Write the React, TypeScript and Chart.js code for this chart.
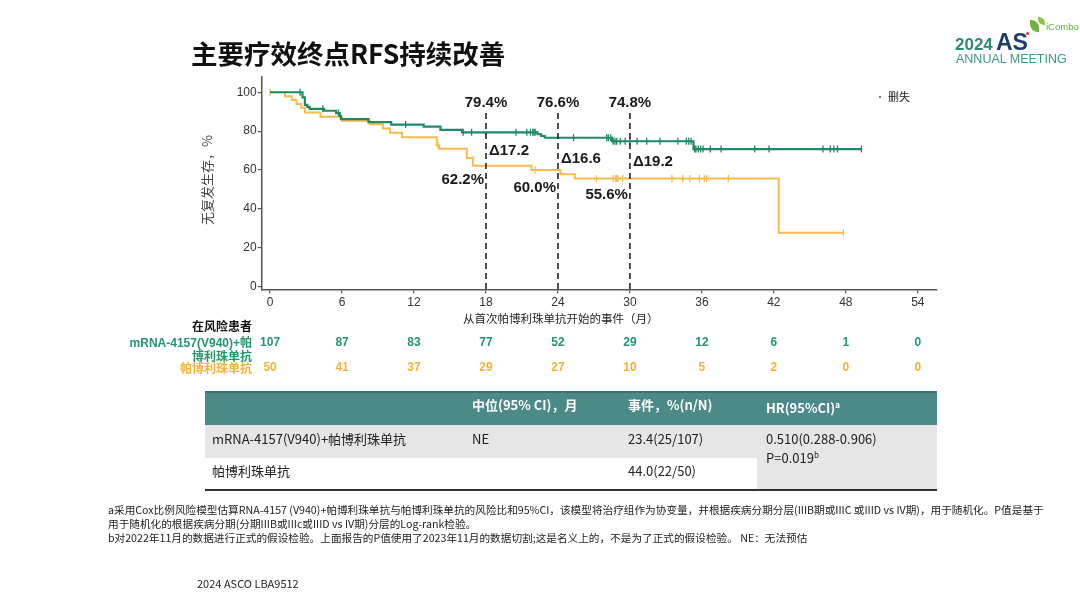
import React, { useEffect, useRef } from 'react';
import { Chart, registerables } from 'chart.js';
Chart.register(...registerables);

// ---------- data ----------
const xTicks = [0, 6, 12, 18, 24, 30, 36, 42, 48, 54];
const yTicks = [0, 20, 40, 60, 80, 100];

const comboTimes = [0, 2.7, 2.9, 3.1, 3.3, 4.5, 5.5, 5.8, 5.9, 8.2, 10.1, 12.8, 14.2, 16.0, 22.3, 22.6, 22.9, 28.5, 35.3, 49.3];
const comboSurv = [100, 97.4, 93.5, 92.5, 91.5, 90.5, 89.3, 87.8, 86.2, 84.6, 83.4, 82.3, 80.6, 79.4, 78.4, 77.5, 76.6, 74.8, 70.8, 70.8];
const comboCensor = [2.5, 4.4, 5.7, 11.3, 16.1, 16.8, 20.5, 21.4, 21.7, 21.9, 22.0, 22.1, 25.3, 28.06, 28.2, 28.4, 28.6, 28.75, 28.9, 29.2, 29.6, 30.0, 30.6, 31.4, 32.5, 34.0, 34.7, 34.9, 35.1, 35.4, 35.5, 35.7, 35.9, 36.1, 36.7, 37.6, 40.4, 41.6, 46.1, 46.7, 47.0, 47.3, 49.3];

const pembroTimes = [0, 1.25, 1.8, 2.2, 2.6, 2.9, 4.2, 6.0, 8.3, 9.4, 10.0, 11.0, 13.9, 14.1, 16.4, 16.9, 21.8, 24.2, 25.4, 42.4, 47.8];
const pembroSurv = [100, 98, 96, 94, 92, 89.6, 87.4, 85.4, 83.5, 81.4, 79.2, 76.9, 72.8, 71.0, 66.2, 62.2, 60.0, 57.8, 55.6, 27.8, 27.8];
const pembroCensor = [0, 14.0, 22.1, 27.2, 28.6, 28.8, 28.9, 29.0, 29.4, 33.5, 34.4, 35.0, 35.8, 36.2, 36.4, 38.2, 47.8];

const atRiskTimes = [0, 6, 12, 18, 24, 30, 36, 42, 48, 54];
const atRiskCombo = [107, 87, 83, 77, 52, 29, 12, 6, 1, 0];
const atRiskPembro = [50, 41, 37, 29, 27, 10, 5, 2, 0, 0];

const landmarkMonths = [18, 24, 30];
const landmarkCombo = ['79.4%', '76.6%', '74.8%'];
const landmarkDelta = ['Δ17.2', 'Δ16.6', 'Δ19.2'];
const landmarkPembro = ['62.2%', '60.0%', '55.6%'];

const GREEN = '#1d8a62';
const GREEN_TEXT = '#23966a';
const ORANGE = '#f6bb4c';
const ORANGE_TEXT = '#f3b23a';
const TEAL = '#4b8a87';
const LATIN = '"Liberation Sans", Arial, "Noto Sans CJK SC", sans-serif';
const CJK = '"Noto Sans CJK SC", "Liberation Sans", sans-serif';

function survAt(times: number[], surv: number[], t: number) {
  let v = surv[0];
  for (let i = 0; i < times.length; i++) if (times[i] <= t) v = surv[i];
  return v;
}

const annotationPlugin = {
  id: 'kmAnnotations',
  afterDatasetsDraw(chart: any) {
    const { ctx, scales } = chart;
    const xs = scales.x;
    const ys = scales.y;
    ctx.save();
    ctx.strokeStyle = '#222';
    ctx.lineWidth = 1.6;
    ctx.setLineDash([6, 4]);
    landmarkMonths.forEach((m) => {
      const x = xs.getPixelForValue(m);
      ctx.beginPath();
      ctx.moveTo(x, 113);
      ctx.lineTo(x, ys.getPixelForValue(ys.min));
      ctx.stroke();
    });
    ctx.setLineDash([]);
    ctx.fillStyle = '#1a1a1a';
    ctx.font = 'bold 15px ' + LATIN;
    ctx.textBaseline = 'middle';
    const deltaY = [151, 159, 162];
    const lowY = [180, 188, 195];
    landmarkMonths.forEach((m, i) => {
      const x = xs.getPixelForValue(m);
      ctx.textAlign = 'center';
      ctx.fillText(landmarkCombo[i], x, 103);
      ctx.textAlign = 'left';
      ctx.fillText(landmarkDelta[i], x + 3, deltaY[i]);
      ctx.textAlign = 'right';
      ctx.fillText(landmarkPembro[i], x - 2, lowY[i]);
    });
    ctx.font = 'bold 12px ' + LATIN;
    ctx.textAlign = 'center';
    atRiskTimes.forEach((t, i) => {
      const x = xs.getPixelForValue(t);
      ctx.fillStyle = GREEN_TEXT;
      ctx.fillText(String(atRiskCombo[i]), x, 343);
      ctx.fillStyle = ORANGE_TEXT;
      ctx.fillText(String(atRiskPembro[i]), x, 368);
    });
    ctx.restore();
  },
};

function KMChart() {
  const ref = useRef<HTMLCanvasElement | null>(null);
  useEffect(() => {
    if (!ref.current) return;
    const comboLine = comboTimes.map((t, i) => ({ x: t, y: comboSurv[i] }));
    const pembroLine = pembroTimes.map((t, i) => ({ x: t, y: pembroSurv[i] }));
    const comboMarks = comboCensor.map((t) => ({ x: t, y: survAt(comboTimes, comboSurv, t) }));
    const pembroMarks = pembroCensor.map((t) => ({ x: t, y: survAt(pembroTimes, pembroSurv, t) }));
    const tickFont = { size: 12, family: LATIN };
    const chart = new Chart(ref.current, {
      type: 'line',
      data: {
        datasets: [
          { data: comboMarks, showLine: false, pointStyle: 'line', rotation: 90, pointRadius: 3.5, pointBorderWidth: 1.3, borderColor: GREEN, pointBorderColor: GREEN, backgroundColor: GREEN } as any,
          { data: comboLine, borderColor: GREEN, borderWidth: 2.2, pointRadius: 0, stepped: 'before', fill: false } as any,
          { data: pembroMarks, showLine: false, pointStyle: 'line', rotation: 90, pointRadius: 3.5, pointBorderWidth: 1.3, borderColor: ORANGE, pointBorderColor: ORANGE, backgroundColor: ORANGE } as any,
          { data: pembroLine, borderColor: ORANGE, borderWidth: 2, pointRadius: 0, stepped: 'before', fill: false } as any,
        ],
      },
      options: {
        responsive: false,
        animation: false,
        events: [],
        layout: { padding: { left: 221.7, top: 76.7, right: 143, bottom: 288.4 } },
        plugins: { legend: { display: false }, tooltip: { enabled: false } },
        scales: {
          x: {
            type: 'linear',
            min: -0.7,
            max: 55.6,
            afterBuildTicks: (s: any) => { s.ticks = xTicks.map((v) => ({ value: v })); },
            afterFit: (s: any) => { s.height = 30; },
            grid: { display: true, drawOnChartArea: false, drawTicks: true, tickLength: 4, color: '#555', lineWidth: 1.2 },
            border: { display: true, color: '#555', width: 1.5 },
            ticks: { font: tickFont, color: '#333', padding: 2, maxRotation: 0, autoSkip: false, callback: (v: any) => String(v) },
          },
          y: {
            type: 'linear',
            min: -1.5,
            max: 108,
            afterBuildTicks: (s: any) => { s.ticks = yTicks.map((v) => ({ value: v })); },
            afterFit: (s: any) => { s.width = 40; },
            grid: { display: true, drawOnChartArea: false, drawTicks: true, tickLength: 4, color: '#555', lineWidth: 1.2 },
            border: { display: true, color: '#555', width: 1.5 },
            ticks: { font: tickFont, color: '#333', padding: 1, autoSkip: false, callback: (v: any) => String(v) },
          },
        },
      } as any,
      plugins: [annotationPlugin],
    });
    return () => chart.destroy();
  }, []);
  return <canvas ref={ref} width={1080} height={608} style={{ position: 'absolute', left: 0, top: 0, width: 1080, height: 608 }} />;
}

const abs = (left: number, top: number, extra: React.CSSProperties = {}): React.CSSProperties => ({
  position: 'absolute', left, top, whiteSpace: 'nowrap', ...extra,
});

export default function App() {
  const cellText: React.CSSProperties = { fontFamily: CJK, fontSize: 13, color: '#222', lineHeight: '16px' };
  const headText: React.CSSProperties = { fontFamily: CJK, fontSize: 13, color: '#fff', fontWeight: 700, lineHeight: '16px' };
  const foot: React.CSSProperties = { fontFamily: CJK, fontSize: 10.65, color: '#222', lineHeight: '14px' };
  return (
    <div style={{ position: 'fixed', left: 0, top: 0, width: 1080, height: 608, background: '#fff', overflow: 'hidden' }}>
      <KMChart />
      <div style={{ position: 'absolute', left: 0, top: 0, width: 1080, height: 608, zIndex: 1 }}>
        {/* title */}
        <div style={abs(191, 35, { fontFamily: CJK, fontSize: 26.5, fontWeight: 700, color: '#111', lineHeight: '36px' })}>主要疗效终点RFS持续改善</div>

        {/* logo */}
        <div style={abs(955, 35, { fontFamily: LATIN, fontSize: 17, fontWeight: 700, color: '#2e8b6f', lineHeight: '20px' })}>2024</div>
        <div style={abs(996, 29, { fontFamily: LATIN, fontSize: 23, fontWeight: 700, color: '#1d3c6e', lineHeight: '26px' })}>AS</div>
        <div style={abs(956, 52, { fontFamily: LATIN, fontSize: 12.5, color: '#3a9a80', lineHeight: '15px' })}>ANNUAL MEETING</div>
        <div style={{ position: 'absolute', left: 1030, top: 20, width: 9, height: 12, background: '#6cb43f', borderRadius: '0 8px 0 8px' }} />
        <div style={{ position: 'absolute', left: 1038, top: 17, width: 7, height: 8, background: '#8cc63f', borderRadius: '0 6px 0 6px' }} />
        <div style={{ position: 'absolute', left: 1026, top: 32, width: 3, height: 3, background: '#e03030', borderRadius: 2 }} />
        <div style={abs(1046, 21, { fontFamily: LATIN, fontSize: 9.5, color: '#5aab3c', lineHeight: '12px' })}>iCombo</div>

        {/* legend */}
        <div style={{ position: 'absolute', left: 879, top: 96, width: 2, height: 2, background: '#555', borderRadius: 1 }} />
        <div style={abs(888, 89, { fontFamily: CJK, fontSize: 11, color: '#222', lineHeight: '14px' })}>删失</div>

        {/* axis titles */}
        <div style={abs(207 - 60, 180 - 8, { width: 120, textAlign: 'center', fontFamily: CJK, fontSize: 13, color: '#444', lineHeight: '16px', transform: 'rotate(-90deg)' })}>无复发生存，%</div>
        <div style={abs(463, 311, { fontFamily: CJK, fontSize: 11.5, color: '#222', lineHeight: '14px' })}>从首次帕博利珠单抗开始的事件（月）</div>

        {/* at-risk labels */}
        <div style={abs(152, 319, { width: 100, textAlign: 'right', fontFamily: CJK, fontSize: 12, fontWeight: 700, color: '#111', lineHeight: '14px' })}>在风险患者</div>
        <div style={abs(92, 336, { width: 160, textAlign: 'right', fontFamily: LATIN, fontSize: 12, fontWeight: 700, color: GREEN_TEXT, lineHeight: '14px' })}>mRNA-4157(V940)+帕</div>
        <div style={abs(152, 349, { width: 100, textAlign: 'right', fontFamily: CJK, fontSize: 12, fontWeight: 700, color: GREEN_TEXT, lineHeight: '14px' })}>博利珠单抗</div>
        <div style={abs(152, 361, { width: 100, textAlign: 'right', fontFamily: CJK, fontSize: 12, fontWeight: 700, color: ORANGE_TEXT, lineHeight: '14px' })}>帕博利珠单抗</div>

        {/* results table */}
        <div style={{ position: 'absolute', left: 205, top: 391, width: 732, height: 34, background: TEAL, borderTop: '2px solid #3d7471', boxSizing: 'border-box' }} />
        <div style={{ position: 'absolute', left: 205, top: 425, width: 552, height: 33, background: '#e6e6e6' }} />
        <div style={{ position: 'absolute', left: 757, top: 425, width: 180, height: 65, background: '#e6e6e6' }} />
        <div style={{ position: 'absolute', left: 205, top: 489, width: 732, height: 2, background: '#333' }} />
        <div style={abs(472, 397, headText)}>中位(95% CI)，月</div>
        <div style={abs(628, 397, headText)}>事件，%(n/N)</div>
        <div style={abs(766, 397, headText)}>HR(95%CI)<sup style={{ fontSize: 8 }}>a</sup></div>
        <div style={abs(212, 431, cellText)}>mRNA-4157(V940)+帕博利珠单抗</div>
        <div style={abs(472, 431, cellText)}>NE</div>
        <div style={abs(628, 431, cellText)}>23.4(25/107)</div>
        <div style={abs(766, 431, cellText)}>0.510(0.288-0.906)</div>
        <div style={abs(766, 447, cellText)}>P=0.019<sup style={{ fontSize: 8 }}>b</sup></div>
        <div style={abs(212, 463, cellText)}>帕博利珠单抗</div>
        <div style={abs(628, 463, cellText)}>44.0(22/50)</div>

        {/* footnotes */}
        <div style={abs(108, 503, foot)}>a采用Cox比例风险模型估算RNA-4157 (V940)+帕博利珠单抗与帕博利珠单抗的风险比和95%CI，该模型将治疗组作为协变量，并根据疾病分期分层(IIIB期或IIIC 或IIID vs IV期)，用于随机化。P值是基于</div>
        <div style={abs(108, 517, foot)}>用于随机化的根据疾病分期(分期IIIB或IIIc或IIID vs IV期)分层的Log-rank检验。</div>
        <div style={abs(108, 531, foot)}>b对2022年11月的数据进行正式的假设检验。上面报告的P值使用了2023年11月的数据切割;这是名义上的，不是为了正式的假设检验。 NE：无法预估</div>
        <div style={abs(197, 576, { fontFamily: CJK, fontSize: 11, color: '#222', lineHeight: '14px' })}>2024 ASCO LBA9512</div>
      </div>
    </div>
  );
}
